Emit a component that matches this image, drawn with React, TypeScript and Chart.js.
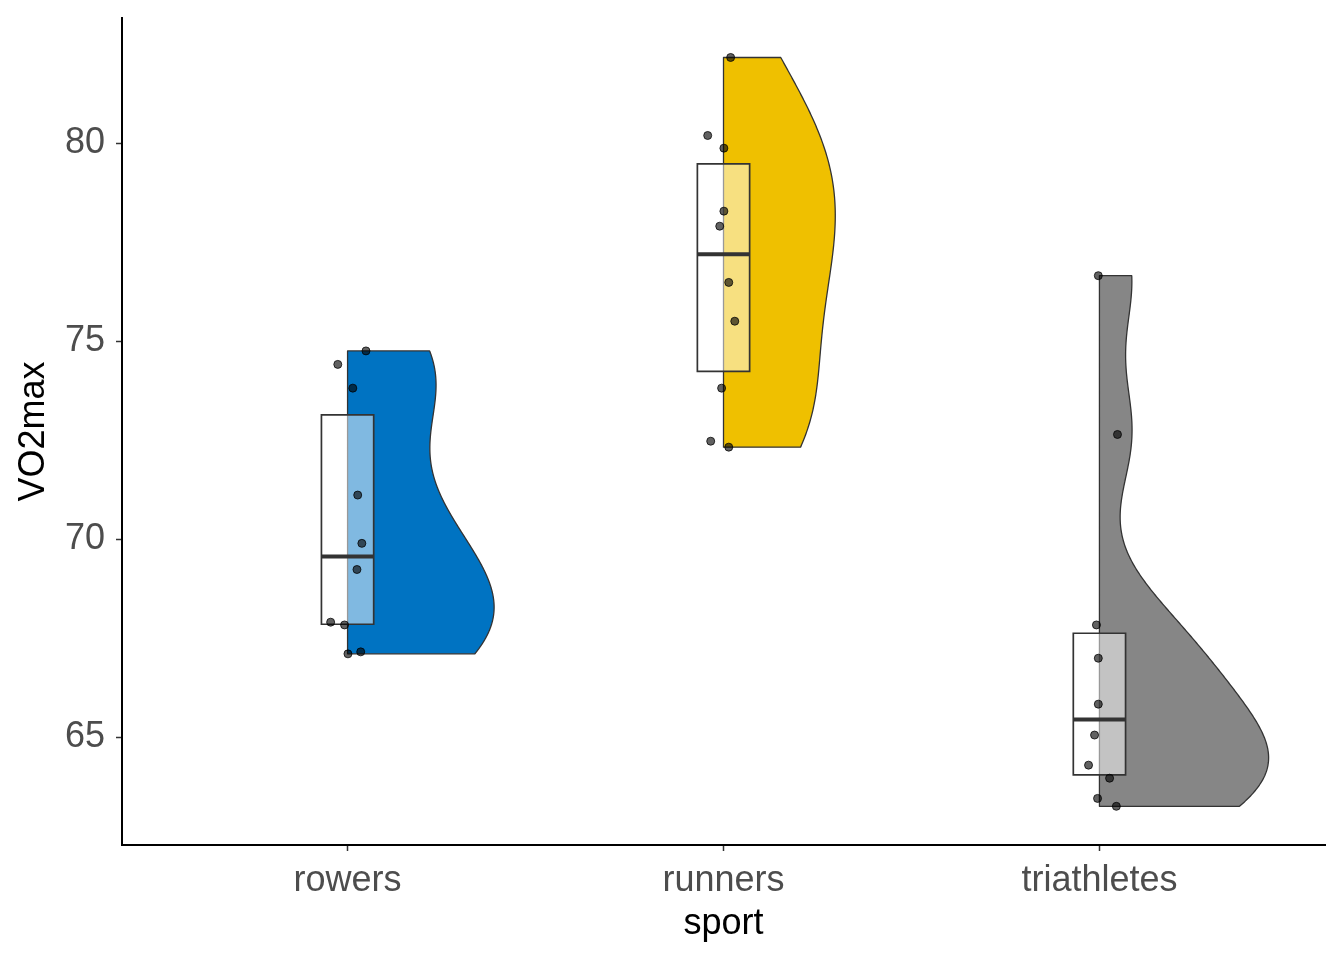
import React, { useEffect, useRef } from 'react';
import { Chart, registerables } from 'chart.js';

Chart.register(...registerables);

// ---------- data ----------
const categories = ['rowers', 'runners', 'triathletes'];
const rowers = [74.75, 74.41, 73.81, 71.11, 69.89, 69.23, 67.9, 67.83, 67.1, 67.15];
const runners = [82.16, 80.19, 79.87, 78.28, 77.9, 76.48, 75.5, 73.81, 72.47, 72.32];
const triathletes = [76.65, 72.64, 67.83, 66.99, 65.83, 65.05, 64.29, 63.96, 63.45, 63.25];
// horizontal jitter of each point (category units)
const rowersJitter = [0.049, -0.026, 0.014, 0.027, 0.038, 0.025, -0.045, -0.008, 0.001, 0.035];
const runnersJitter = [0.019, -0.042, 0.001, 0.001, -0.01, 0.014, 0.03, -0.005, -0.034, 0.014];
const triathletesJitter = [-0.003, 0.048, -0.008, -0.003, -0.003, -0.013, -0.029, 0.027, -0.005, 0.045];
const fillColors = ['#0073C2', '#EFC000', '#868686'];
const yTicks = [65, 70, 75, 80];
const yLimits = [62.273, 83.157];
const xLimits = [-0.6, 2.6];

const groups = [rowers, runners, triathletes];
const jitters = [rowersJitter, runnersJitter, triathletesJitter];

// ---------- statistics (as ggplot does) ----------
function quantile7(vals: number[], p: number) {
  const s = [...vals].sort((a, b) => a - b);
  const h = (s.length - 1) * p;
  const lo = Math.floor(h);
  const hi = Math.ceil(h);
  return s[lo] + (h - lo) * (s[hi] - s[lo]);
}
function sd(vals: number[]) {
  const m = vals.reduce((a, b) => a + b, 0) / vals.length;
  return Math.sqrt(vals.reduce((a, b) => a + (b - m) * (b - m), 0) / (vals.length - 1));
}
function bwNrd0(vals: number[]) {
  const iqr = quantile7(vals, 0.75) - quantile7(vals, 0.25);
  const lo = Math.min(sd(vals), iqr / 1.34);
  return 0.9 * lo * Math.pow(vals.length, -0.2);
}
function kde(vals: number[], nGrid = 512) {
  const bw = bwNrd0(vals);
  const mn = Math.min(...vals);
  const mx = Math.max(...vals);
  const ys: number[] = [];
  const ds: number[] = [];
  for (let k = 0; k < nGrid; k++) {
    const yv = mn + ((mx - mn) * k) / (nGrid - 1);
    let s = 0;
    for (const v of vals) {
      const z = (yv - v) / bw;
      s += Math.exp(-0.5 * z * z);
    }
    ys.push(yv);
    ds.push(s / (vals.length * bw * Math.sqrt(2 * Math.PI)));
  }
  return { ys, ds };
}

const FONT = "'Liberation Sans', Arial, Helvetica, sans-serif";

function zeroPadding(s: any) {
  s.paddingTop = 0;
  s.paddingBottom = 0;
  s.paddingLeft = 0;
  s.paddingRight = 0;
}

export default function App() {
  const ref = useRef<HTMLCanvasElement | null>(null);

  useEffect(() => {
    document.body.style.margin = '0';
    const canvas = ref.current;
    if (!canvas) return;

    const dens = groups.map((g) => kde(g));
    const maxDens = Math.max(...dens.map((d) => Math.max(...d.ds)));
    const boxes = groups.map((g) => ({
      q1: quantile7(g, 0.25),
      med: quantile7(g, 0.5),
      q3: quantile7(g, 0.75),
    }));
    const halfViolin = 0.45;
    const halfBox = 0.0695;

    const raincloud = {
      id: 'raincloud',
      beforeDatasetsDraw(chart: any) {
        const { ctx } = chart;
        const xs = chart.scales.x;
        const ysc = chart.scales.y;
        groups.forEach((_g, i) => {
          const d = dens[i];
          ctx.save();
          ctx.beginPath();
          ctx.moveTo(xs.getPixelForValue(i), ysc.getPixelForValue(d.ys[0]));
          for (let k = 0; k < d.ys.length; k++) {
            ctx.lineTo(
              xs.getPixelForValue(i + (halfViolin * d.ds[k]) / maxDens),
              ysc.getPixelForValue(d.ys[k])
            );
          }
          ctx.lineTo(xs.getPixelForValue(i), ysc.getPixelForValue(d.ys[d.ys.length - 1]));
          ctx.closePath();
          ctx.fillStyle = fillColors[i];
          ctx.fill();
          ctx.strokeStyle = '#333333';
          ctx.lineWidth = 1.3;
          ctx.lineJoin = 'round';
          ctx.stroke();

          const b = boxes[i];
          const x0 = xs.getPixelForValue(i - halfBox);
          const x1 = xs.getPixelForValue(i + halfBox);
          const yTop = ysc.getPixelForValue(b.q3);
          const yBot = ysc.getPixelForValue(b.q1);
          ctx.beginPath();
          ctx.rect(x0, yTop, x1 - x0, yBot - yTop);
          ctx.fillStyle = 'rgba(255,255,255,0.5)';
          ctx.fill();
          ctx.strokeStyle = '#333333';
          ctx.lineWidth = 1.7;
          ctx.lineJoin = 'miter';
          ctx.stroke();
          const ym = ysc.getPixelForValue(b.med);
          ctx.beginPath();
          ctx.moveTo(x0, ym);
          ctx.lineTo(x1, ym);
          ctx.lineWidth = 4;
          ctx.lineCap = 'butt';
          ctx.stroke();
          ctx.restore();
        });
      },
    };

    const datasets = groups.map((g, i) => ({
      label: categories[i],
      data: g.map((v, k) => ({ x: i + jitters[i][k], y: v })),
      pointRadius: 4,
      pointHoverRadius: 4,
      pointBackgroundColor: 'rgba(0,0,0,0.62)',
      pointBorderColor: 'rgba(0,0,0,0.75)',
      pointBorderWidth: 1,
      showLine: false,
    }));

    const chart = new Chart(canvas, {
      type: 'scatter',
      data: { datasets },
      plugins: [raincloud],
      options: {
        animation: false,
        responsive: false,
        devicePixelRatio: 1,
        events: [],
        layout: { padding: { top: 18, right: 19, left: 0, bottom: 0 } },
        plugins: { legend: { display: false }, tooltip: { enabled: false } },
        scales: {
          x: {
            type: 'linear',
            min: xLimits[0],
            max: xLimits[1],
            afterBuildTicks: (s: any) => {
              s.ticks = categories.map((_c, i) => ({ value: i }));
            },
            afterFit: (s: any) => {
              s.height = 115;
              zeroPadding(s);
            },
            ticks: {
              callback: (v: any) => categories[Math.round(Number(v))] ?? '',
              font: { family: FONT, size: 36 },
              color: '#4D4D4D',
              padding: 8,
              maxRotation: 0,
              autoSkip: false,
            },
            grid: {
              display: true,
              drawOnChartArea: false,
              drawTicks: true,
              tickLength: 6,
              tickColor: '#333333',
              tickWidth: 1.5,
            },
            border: { display: true, color: '#000000', width: 2 },
            title: {
              display: true,
              text: 'sport',
              font: { family: FONT, size: 36 },
              color: '#000000',
              padding: { top: 0, bottom: 14 },
            },
          },
          y: {
            type: 'linear',
            min: yLimits[0],
            max: yLimits[1],
            afterBuildTicks: (s: any) => {
              s.ticks = yTicks.map((v) => ({ value: v }));
            },
            afterFit: (s: any) => {
              s.width = 122;
              zeroPadding(s);
            },
            ticks: {
              font: { family: FONT, size: 36 },
              color: '#4D4D4D',
              padding: 11,
            },
            grid: {
              display: true,
              drawOnChartArea: false,
              drawTicks: true,
              tickLength: 6,
              tickColor: '#333333',
              tickWidth: 1.5,
            },
            border: { display: true, color: '#000000', width: 2 },
            title: {
              display: true,
              text: 'VO2max',
              font: { family: FONT, size: 36 },
              color: '#000000',
              padding: { top: 12, bottom: 0 },
            },
          },
        },
      },
    });
    return () => chart.destroy();
  }, []);

  return (
    <div style={{ width: 1344, height: 960, background: '#ffffff' }}>
      <canvas ref={ref} width={1344} height={960} style={{ display: 'block' }} />
    </div>
  );
}
